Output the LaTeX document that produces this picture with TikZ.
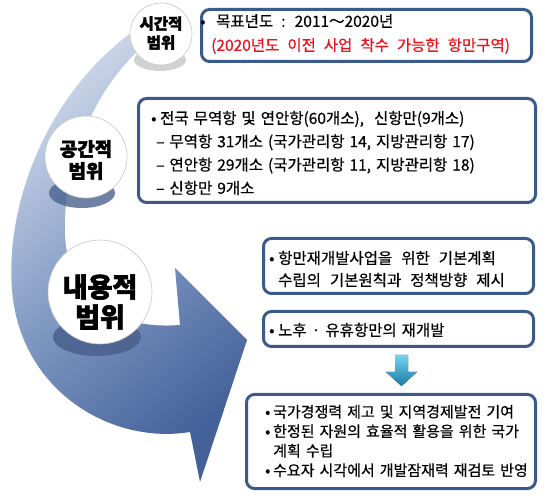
\documentclass[tikz,border=0pt]{standalone}
\usepackage{fontspec}
\setmainfont{Noto Sans CJK KR}
\newfontfamily\boxfont[FakeBold=0.5]{Noto Sans CJK KR}
\newfontfamily\heavyfont[BoldFeatures={FakeBold=2.2}]{Noto Sans CJK KR}
\usetikzlibrary{shapes.geometric}
\definecolor{boxblue}{HTML}{3A5A8C}
\definecolor{arrlight}{HTML}{CCD7E9}
\definecolor{arrmid}{HTML}{7F98C2}
\definecolor{arrdark}{HTML}{44629A}
\definecolor{shadowblue}{HTML}{4C6290}
\definecolor{redtxt}{HTML}{E8141B}
\definecolor{tealL}{HTML}{74D3F0}
\definecolor{tealD}{HTML}{1A7BA5}
\pgfdeclareradialshading{glossy}{\pgfpointorigin}{color(0bp)=(white); color(26bp)=(white); color(40bp)=(gray!10); color(47bp)=(gray!28); color(50bp)=(gray!50)}
\newcommand{\bulx}[1]{\makebox[#1][l]{•}}
\newcommand{\wsp}[1]{\spaceskip=#1\relax}
\tikzset{
  infobox/.style={draw=boxblue, line width=3pt, rounded corners=8pt, fill=white, inner sep=0pt},
  boxtext/.style={anchor=west, inner sep=0pt, align=left},
  ball/.style={circle, shading=glossy, draw=gray!45, line width=0.6pt, inner sep=0pt},
  balltext/.style={align=center, inner sep=0pt},
}
\begin{document}
\begin{tikzpicture}[x=1pt,y=-1pt]
\useasboundingbox (0,0) rectangle (555,497);
% big curved arrow
\path[top color=arrlight, bottom color=arrdark, middle color=arrmid, shading angle=40]
  (135,30) .. controls (50,90) and (5,200) .. (12,290)
  .. controls (20,390) and (110,445) .. (190,432)
  -- (200,482) -- (247,340) -- (175,268) -- (180,325)
  .. controls (115,330) and (68,300) .. (65,235)
  .. controls (62,160) and (100,70) .. (165,30) -- cycle;
% shadows of the balls
\fill[gray!50, opacity=0.7] (160,60) ellipse [x radius=26, y radius=11];
\fill[shadowblue, opacity=0.8] (82,193) ellipse [x radius=33, y radius=15];
\fill[shadowblue, opacity=0.9] (97,337) ellipse [x radius=44, y radius=19];
% balls
\node[ball, minimum size=62pt] (c1) at (161,34) {};
\node[ball, minimum size=82pt] (c2) at (86,157) {};
\node[ball, minimum size=104pt] (c3) at (100,292) {};
\node[balltext, font=\heavyfont\bfseries\fontsize{15.5}{19}\selectfont] (l1) at (161,33) {시간적\\범위};
\node[balltext, font=\heavyfont\bfseries\fontsize{19}{22}\selectfont] (l2) at (86,160) {공간적\\범위};
\node[balltext, font=\heavyfont\bfseries\fontsize{27}{30}\selectfont] (l3) at (100,302) {내용적\\범위};
% boxes
\node[infobox, minimum width=330pt, minimum height=52pt] (b1) at (366.5,35.5) {};
\node[infobox, minimum width=397pt, minimum height=104pt] (b2) at (337,150.5) {};
\node[infobox, minimum width=270pt, minimum height=55pt] (b3) at (398.5,266) {};
\node[infobox, minimum width=270pt, minimum height=35pt] (b4) at (398.5,329) {};
\node[infobox, minimum width=289pt, minimum height=94pt] (b5) at (391,441.5) {};
% texts
\node[boxtext, font=\boxfont\fontsize{15.5}{24}\selectfont\wsp{8pt}] (t1) at (200,34)
  {\bulx{16pt}목표년도 : 2011～2020년\\\hspace*{11pt}\textcolor{redtxt}{(2020년도 이전 사업 착수 가능한 항만구역)}};
\node[boxtext, font=\boxfont\fontsize{15.5}{23.3}\selectfont\wsp{5pt}] (t2) at (151,153)
  {\bulx{9pt}전국 무역항 및 연안항(60개소),\ \ 신항만(9개소)\\
   \hspace*{5pt}– 무역항 31개소 (국가관리항 14, 지방관리항 17)\\
   \hspace*{5pt}– 연안항 29개소 (국가관리항 11, 지방관리항 18)\\
   \hspace*{5pt}– 신항만 9개소};
\node[boxtext, font=\boxfont\fontsize{15.5}{22}\selectfont\wsp{9pt}] (t3) at (269,269)
  {\bulx{9pt}항만재개발사업을 위한 기본계획\\\hspace*{9pt}수립의 기본원칙과 정책방향 제시};
\node[boxtext, font=\boxfont\fontsize{15.5}{22}\selectfont\wsp{5pt}] (t4) at (269,330)
  {\bulx{9pt}노후 · 유휴항만의 재개발};
\node[boxtext, font=\boxfont\fontsize{15}{19.5}\selectfont\wsp{5pt}] (t5) at (265,441)
  {\bulx{8pt}국가경쟁력 제고 및 지역경제발전 기여\\
   \bulx{8pt}한정된 자원의 효율적 활용을 위한 국가\\
   \hspace*{8pt}계획 수립\\
   \bulx{8pt}수요자 시각에서 개발잠재력 재검토 반영};
% small down arrow
\fill[top color=tealL, bottom color=tealD]
  (395,355) -- (408,355) -- (408,372) -- (417,372) -- (401.5,386) -- (386,372) -- (395,372) -- cycle;
\end{tikzpicture}
\end{document}
